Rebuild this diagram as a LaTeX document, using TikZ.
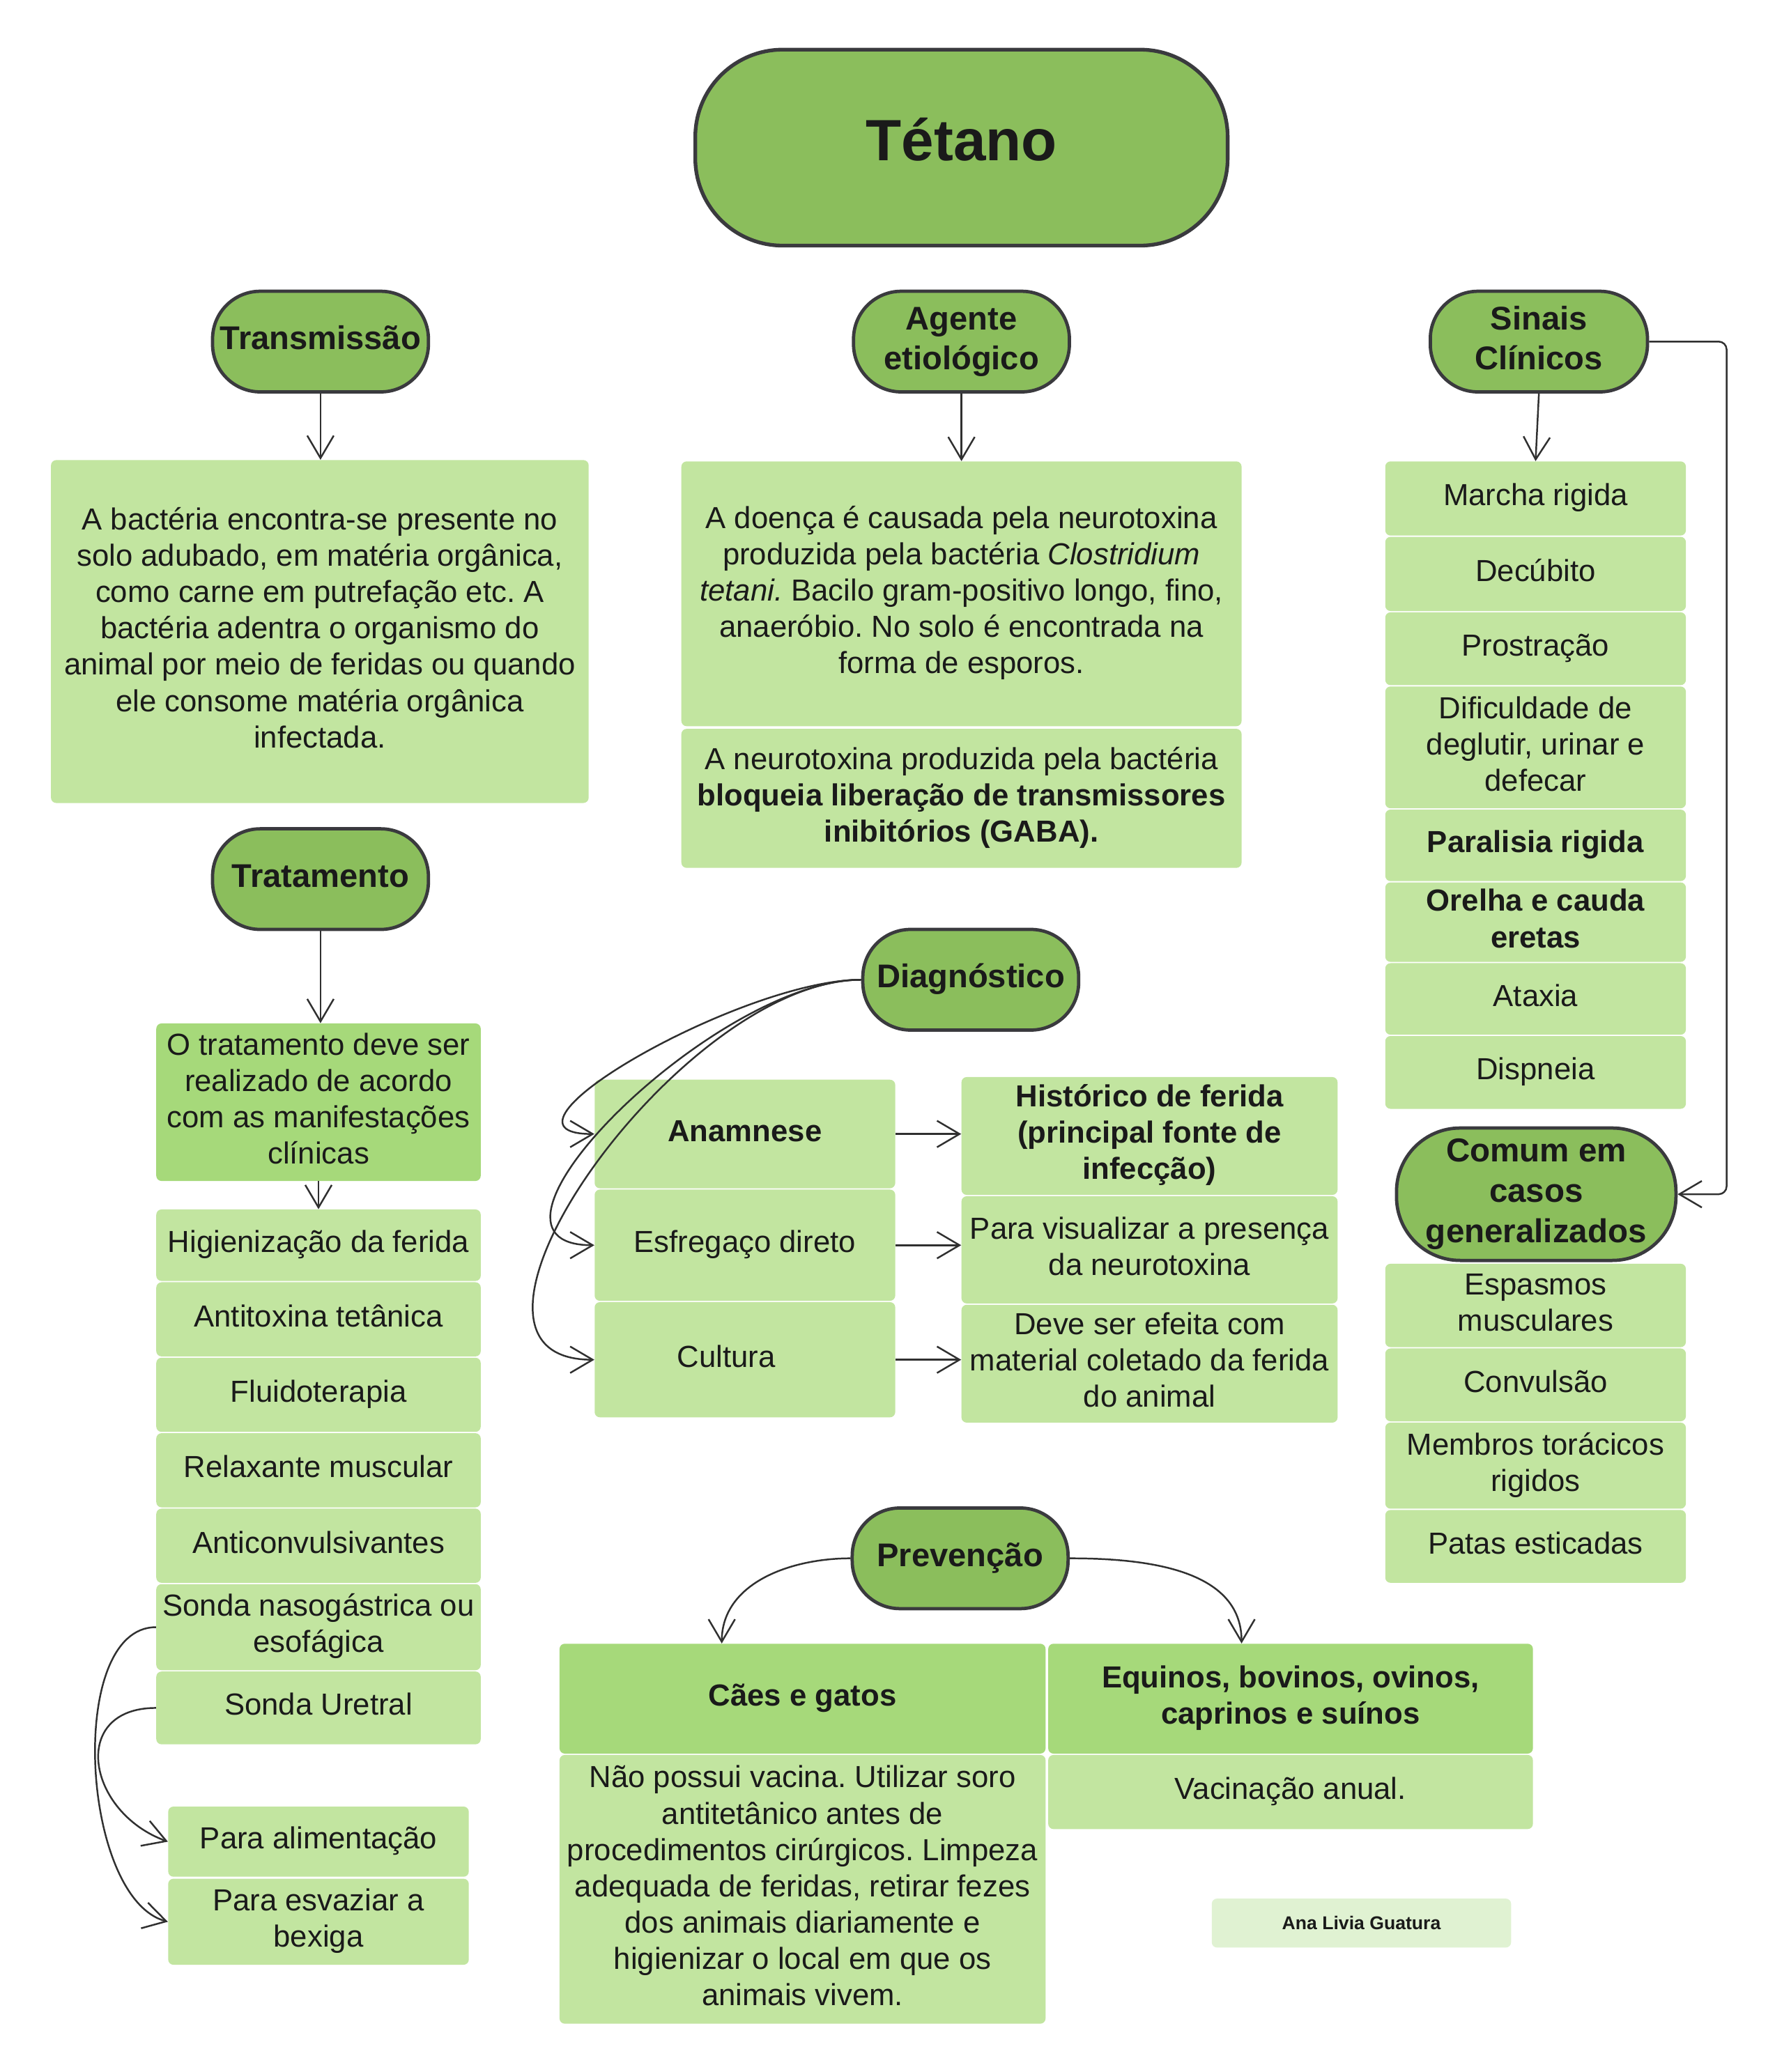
\documentclass[tikz,border=0pt]{standalone}
\usepackage{fontspec}
\setmainfont{Liberation Sans}
\usetikzlibrary{arrows.meta,calc}
\frenchspacing
\definecolor{stadg}{HTML}{8BBE5C}
\definecolor{bordc}{HTML}{3A3A3E}
\definecolor{lightg}{HTML}{C2E5A0}
\definecolor{darkg}{HTML}{A6D97A}
\definecolor{paleg}{HTML}{E0F2D2}
\definecolor{txtc}{HTML}{1A1A1A}
\definecolor{arrc}{HTML}{303030}
\newcommand{\bodyf}{\fontsize{23}{27.4}\selectfont}
\newcommand{\headf}{\fontsize{24.8}{30}\selectfont\bfseries}
\newcommand{\titlef}{\fontsize{44}{50}\selectfont\bfseries}
\newcommand{\tx}[2][1.5pt]{\raisebox{#1}{\begin{tabular}{@{}c@{}}#2\end{tabular}}}
\tikzset{
  stad/.style={draw=bordc, line width=2.5pt, fill=stadg, rounded corners=36pt,
    inner sep=0pt, font=\headf, text=txtc,
    minimum width=163pt, minimum height=76pt},
  lbox/.style={fill=lightg, rounded corners=4pt, inner sep=0pt,
    font=\bodyf, text=txtc},
  dbox/.style={lbox, fill=darkg},
  sitem/.style={lbox, minimum width=227pt},
  titem/.style={lbox, minimum width=245pt},
  arr/.style={draw=arrc, line width=1.3pt, -{Straight Barb[length=17pt,width=20pt]}}
}
\begin{document}
\begin{tikzpicture}[x=1pt,y=-1pt]
\useasboundingbox[fill=white] (0,0) rectangle (1340,1565);

% Title and headers
\node[stad, minimum width=402pt, minimum height=148pt, rounded corners=66pt, line width=2.8pt, font=\titlef] (title) at (726,111.5) {\tx[-1.4pt]{Tétano}};
\node[stad] (trans) at (242,258) {\tx[1pt]{Transmissão}};
\node[stad] (agente) at (726,258) {\tx[4pt]{Agente\\etiológico}};
\node[stad, minimum width=164pt] (sinais) at (1162,258) {\tx[4pt]{Sinais\\Clínicos}};
\node[stad] (trat) at (242,664) {\tx[1pt]{Tratamento}};
\node[stad] (diag) at (733,740) {\tx[1pt]{Diagnóstico}};
\node[stad] (prev) at (725,1177) {\tx[1pt]{Prevenção}};
\node[stad, minimum width=211pt, minimum height=100pt, rounded corners=48pt,
  font=\fontsize{25}{30.5}\selectfont\bfseries] (comum) at (1160,902) {\tx[0pt]{Comum em\\casos\\generalizados}};

% Transmissao
\node[lbox, minimum width=406pt, minimum height=259pt] (tbox) at (241.5,477)
 {\tx{A bactéria encontra-se presente no\\solo adubado, em matéria orgânica,\\como carne em putrefação etc. A\\bactéria adentra o organismo do\\animal por meio de feridas ou quando\\ele consome matéria orgânica\\infectada.}};

% Agente
\node[lbox, minimum width=423pt, minimum height=200pt] (ag1) at (726,448.5)
 {\tx[3pt]{A doença é causada pela neurotoxina\\produzida pela bactéria \textit{Clostridium}\\\textit{tetani.} Bacilo gram-positivo longo, fino,\\anaeróbio. No solo é encontrada na\\forma de esporos.}};
\node[lbox, minimum width=423pt, minimum height=105pt] (ag2) at (726,603)
 {\tx{A neurotoxina produzida pela bactéria\\\textbf{bloqueia liberação de transmissores}\\\textbf{inibitórios (GABA).}}};

% Sinais clinicos
\node[sitem, minimum height=56pt] (s1) at (1159.5,376.5) {\tx{Marcha rigida}};
\node[sitem, minimum height=56pt] (s2) at (1159.5,433.5) {\tx{Decúbito}};
\node[sitem, minimum height=55pt] (s3) at (1159.5,490) {\tx{Prostração}};
\node[sitem, minimum height=92pt] (s4) at (1159.5,564.5) {\tx{Dificuldade de\\deglutir, urinar e\\defecar}};
\node[sitem, minimum height=54pt, font=\bodyf\bfseries] (s5) at (1159.5,638.5) {\tx{Paralisia rigida}};
\node[sitem, minimum height=60pt, font=\bodyf\bfseries] (s6) at (1159.5,696.5) {\tx{Orelha e cauda\\eretas}};
\node[sitem, minimum height=54pt] (s7) at (1159.5,754.5) {\tx{Ataxia}};
\node[sitem, minimum height=55pt] (s8) at (1159.5,810) {\tx{Dispneia}};

\node[sitem, minimum height=63pt] (g1) at (1159.5,986) {\tx{Espasmos\\musculares}};
\node[sitem, minimum height=55pt] (g2) at (1159.5,1046) {\tx{Convulsão}};
\node[sitem, minimum height=65pt] (g3) at (1159.5,1107) {\tx{Membros torácicos\\rigidos}};
\node[sitem, minimum height=55pt] (g4) at (1159.5,1168) {\tx{Patas esticadas}};

% Tratamento
\node[dbox, minimum width=245pt, minimum height=119pt] (tr0) at (240.5,832.5)
 {\tx{O tratamento deve ser\\realizado de acordo\\com as manifestações\\clínicas}};
\node[titem, minimum height=54pt] (t1) at (240.5,940.5) {\tx{Higienização da ferida}};
\node[titem, minimum height=56pt] (t2) at (240.5,996.5) {\tx{Antitoxina tetânica}};
\node[titem, minimum height=56pt] (t3) at (240.5,1053.5) {\tx{Fluidoterapia}};
\node[titem, minimum height=56pt] (t4) at (240.5,1110.5) {\tx{Relaxante muscular}};
\node[titem, minimum height=56pt] (t5) at (240.5,1167.5) {\tx{Anticonvulsivantes}};
\node[titem, minimum height=65pt] (t6) at (240.5,1229) {\tx{Sonda nasogástrica ou\\esofágica}};
\node[titem, minimum height=55pt] (t7) at (240.5,1290) {\tx{Sonda Uretral}};
\node[sitem, minimum height=53pt] (p1) at (240.5,1391) {\tx{Para alimentação}};
\node[sitem, minimum height=65pt] (p2) at (240.5,1451.5) {\tx{Para esvaziar a\\bexiga}};

% Diagnostico
\node[sitem, minimum height=82pt, font=\bodyf\bfseries] (d1) at (562.5,856.5) {\tx{Anamnese}};
\node[sitem, minimum height=84pt] (d2) at (562.5,940.5) {\tx{Esfregaço direto}};
\node[sitem, minimum height=87pt] (d3) at (562.5,1027) {\tx{\hspace*{-28pt}Cultura}};
\node[lbox, minimum width=284pt, minimum height=89pt, font=\bodyf\bfseries] (h1) at (868,858)
 {\tx{Histórico de ferida\\(principal fonte de\\infecção)}};
\node[lbox, minimum width=284pt, minimum height=81pt] (h2) at (868,944)
 {\tx{Para visualizar a presença\\da neurotoxina}};
\node[lbox, minimum width=284pt, minimum height=89pt] (h3) at (868,1030)
 {\tx{Deve ser efeita com\\material coletado da ferida\\do animal}};

% Prevencao
\node[dbox, minimum width=367pt, minimum height=83pt, font=\bodyf\bfseries] (c0) at (606,1283) {\tx{Cães e gatos}};
\node[dbox, minimum width=366pt, minimum height=83pt, font=\bodyf\bfseries] (e0) at (974.5,1283) {\tx{Equinos, bovinos, ovinos,\\caprinos e suínos}};
\node[lbox, minimum width=367pt, minimum height=203pt] (c1) at (606,1427)
 {\tx{Não possui vacina. Utilizar soro\\antitetânico antes de\\procedimentos cirúrgicos. Limpeza\\adequada de feridas, retirar fezes\\dos animais diariamente e\\higienizar o local em que os\\animais vivem.}};
\node[lbox, minimum width=366pt, minimum height=56pt] (e1) at (974.5,1353.5) {\tx{Vacinação anual.}};

\node[lbox, fill=paleg, minimum width=226pt, minimum height=37pt,
  font=\fontsize{14}{16}\selectfont\bfseries] (ana) at (1028,1452.5) {Ana Livia Guatura};

% Connectors
\draw[arr] (trans.south) -- (trans.south |- tbox.north);
\draw[arr] (agente.south) -- (agente.south |- ag1.north);
\draw[arr] (sinais.south) -- (s1.north);
\draw[arr, rounded corners=6pt] (sinais.east) -- ++(58.5,0) |- (comum.east);
\draw[arr] (trat.south) -- (trat.south |- tr0.north);
\draw[arr] (tr0.south) -- (t1.north);
\draw[arr] (t6.west) to[out=180,in=165,looseness=0.78] (p2.west);
\draw[arr] (t7.west) to[out=180,in=160,looseness=1.65] (p1.west);
\draw[arr] (diag.west) to[out=180,in=180] (d1.west);
\draw[arr] (diag.west) to[out=180,in=180] (d2.west);
\draw[arr] (diag.west) to[out=180,in=180] (d3.west);
\draw[arr] (d1.east) -- (d1.east -| h1.west);
\draw[arr] (d2.east) -- (d2.east -| h2.west);
\draw[arr] (d3.east) -- (d3.east -| h3.west);
\draw[arr] (prev.west) to[out=180,in=90] ($(c0.north)+(-61,0)$);
\draw[arr] (prev.east) to[out=0,in=90] ($(e0.north)+(-37,0)$);
\end{tikzpicture}
\end{document}
